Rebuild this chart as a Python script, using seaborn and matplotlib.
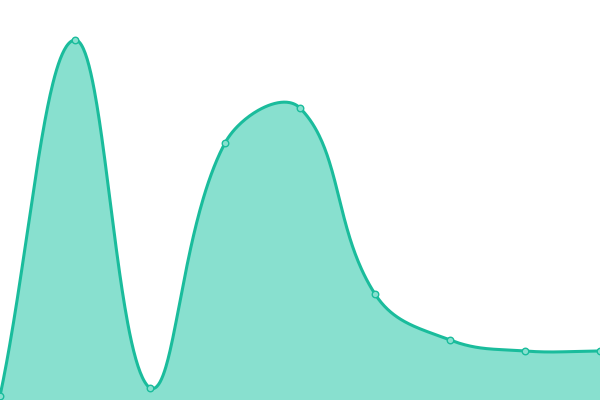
import numpy as np
import pandas as pd
import matplotlib
matplotlib.use("Agg")
import matplotlib.pyplot as plt
import seaborn as sns

# data
x_vals = [0, 75, 150, 225, 300, 375, 450, 525, 600]
y_vals = [4, 360, 12, 257, 292, 106, 60, 49, 49]

LINE = "#1abc9c"
FILL = "#88e0cf"

sns.set_theme(style="white")

def spline_curve(xs, ys, tension=0.4, n=80, lo=0, hi=400):
    P = np.column_stack([xs, ys]).astype(float)
    m = len(P)
    cp_prev = np.zeros_like(P)
    cp_next = np.zeros_like(P)
    for i in range(m):
        prev = P[max(i - 1, 0)]
        cur = P[i]
        nxt = P[min(i + 1, m - 1)]
        d01 = np.hypot(*(cur - prev))
        d12 = np.hypot(*(nxt - cur))
        tot = d01 + d12
        s01 = d01 / tot if tot else 0
        s12 = d12 / tot if tot else 0
        cp_prev[i] = cur - tension * s01 * (nxt - prev)
        cp_next[i] = cur + tension * s12 * (nxt - prev)
    cp_prev[:, 1] = np.clip(cp_prev[:, 1], lo, hi)
    cp_next[:, 1] = np.clip(cp_next[:, 1], lo, hi)
    t = np.linspace(0, 1, n, endpoint=False)[:, None]
    segs = []
    for i in range(m - 1):
        b = ((1 - t) ** 3) * P[i] + 3 * ((1 - t) ** 2) * t * cp_next[i] \
            + 3 * (1 - t) * t ** 2 * cp_prev[i + 1] + t ** 3 * P[i + 1]
        segs.append(b)
    segs.append(P[-1:])
    out = np.vstack(segs)
    return out[:, 0], out[:, 1]

sx, sy = spline_curve(x_vals, y_vals)
curve = pd.DataFrame({"x": sx, "y": sy})
pts = pd.DataFrame({"x": x_vals, "y": y_vals})

fig = plt.figure(figsize=(6, 4), dpi=100)
ax = fig.add_axes([0, 0, 1, 1])
ax.fill_between(curve["x"], curve["y"], 0, color=FILL, linewidth=0, zorder=1)
sns.lineplot(data=curve, x="x", y="y", ax=ax, color=LINE, linewidth=2.2, sort=False, zorder=2)
sns.scatterplot(data=pts, x="x", y="y", ax=ax, s=22, color=FILL, edgecolor=LINE, linewidth=1, zorder=3, clip_on=True)
ax.set_xlim(0, 600)
ax.set_ylim(0, 400)
ax.axis("off")
fig.savefig("out.png", dpi=100)
